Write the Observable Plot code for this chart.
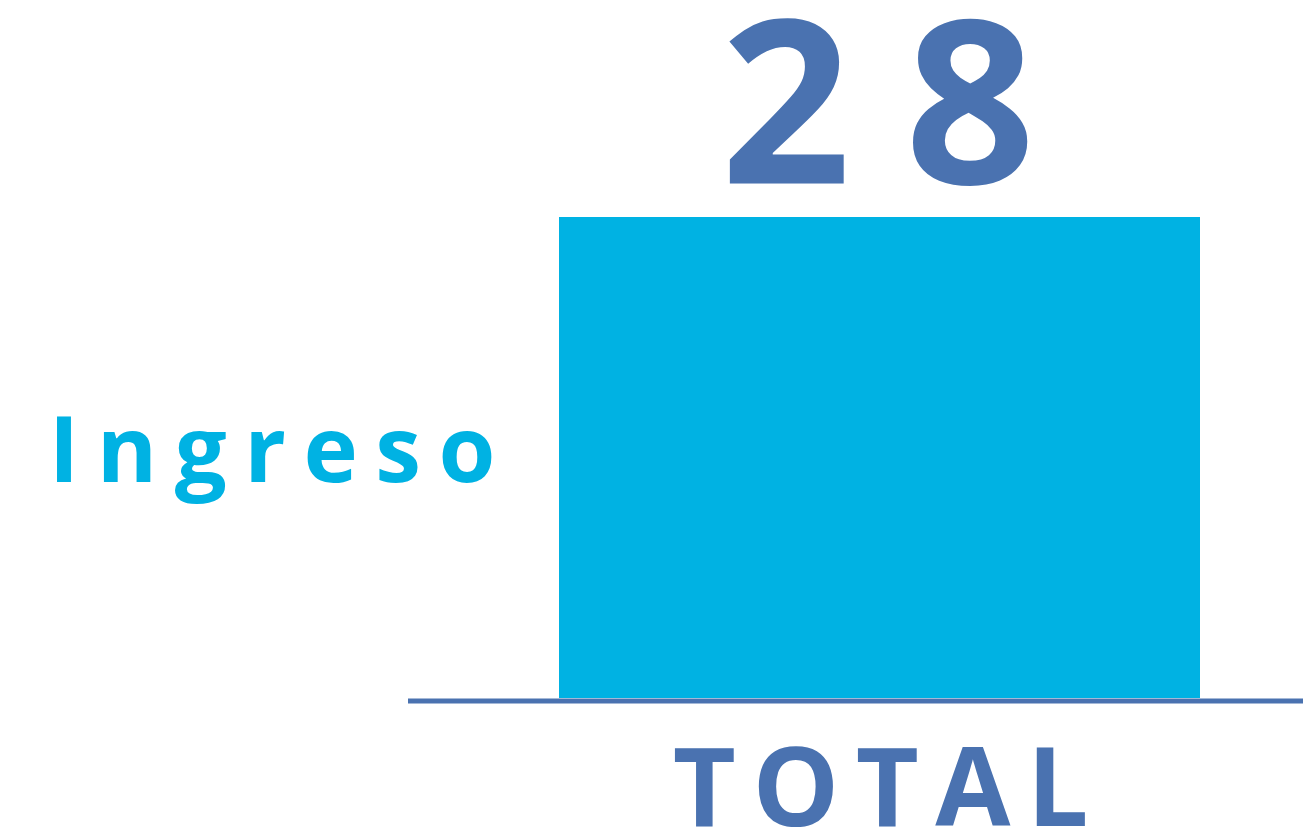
<!DOCTYPE html>
<html>
<head>
<meta charset="utf-8">
<script src="https://cdn.jsdelivr.net/npm/d3@7"></script>
<script src="https://cdn.jsdelivr.net/npm/@observablehq/plot@0.6"></script>
<style>
  html, body { margin: 0; padding: 0; background: #fff; overflow: hidden; }
  g[font-size="228"] text { letter-spacing: 54px; }
  g[font-size="92"] text { letter-spacing: 17.5px; }
  g[aria-label="x-axis tick label"] text { letter-spacing: 16.5px; }
</style>
</head>
<body>
<div id="chart"></div>
<script>
const categories = ["TOTAL"];
const values = [28];
const seriesName = ["Ingreso"];

const data = categories.map((c, i) => ({category: c, value: values[i]}));

const blue = "#4a72b0";
const cyan = "#00b2e3";
const font = "'Open Sans', sans-serif";

const chart = Plot.plot({
  width: 1303,
  height: 832,
  marginLeft: 559,
  marginRight: 103,
  marginTop: 217,
  marginBottom: 134,
  style: {fontFamily: font, background: "#fff"},
  x: {domain: categories, padding: 0, axis: null},
  y: {domain: [0, 28], axis: null},
  marks: [
    Plot.barY(data, {x: "category", y: "value", fill: cyan}),
    Plot.ruleY([0], {stroke: blue, strokeWidth: 5, dy: 2.5, insetLeft: -151, insetRight: -103}),
    Plot.text(data, {
      x: "category", y: "value", text: d => String(d.value),
      lineAnchor: "bottom", dy: -34, dx: 25,
      fill: blue, fontSize: 228, fontWeight: "bold", fontFamily: font
    }),
    Plot.text(seriesName, {
      frameAnchor: "left", textAnchor: "end", dx: -46.5, dy: -5,
      fill: cyan, fontSize: 92, fontWeight: "bold", fontFamily: font
    }),
    Plot.axisX({
      anchor: "bottom", tickSize: 0, tickPadding: 50, dx: 9,
      fontSize: 109, fontWeight: "bold", fontFamily: font, fill: blue,
      label: null
    })
  ]
});

document.getElementById("chart").appendChild(chart);
</script>
</body>
</html>
